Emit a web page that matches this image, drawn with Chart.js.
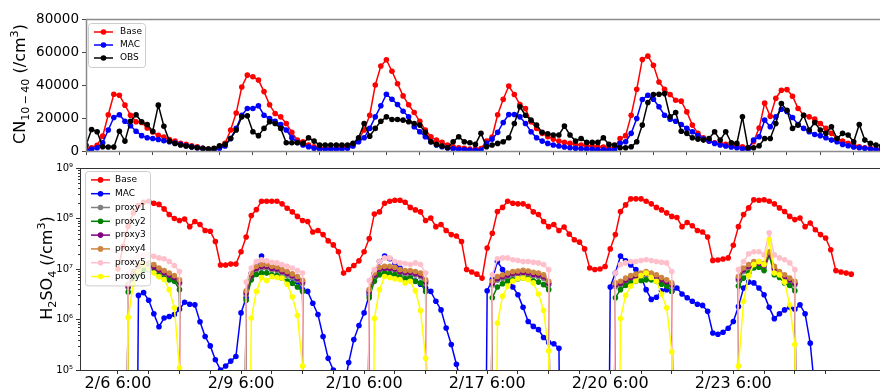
<!DOCTYPE html>
<html>
<head>
<meta charset="utf-8">
<script src="https://cdn.jsdelivr.net/npm/chart.js@4"></script>
<style>
  html, body { margin: 0; padding: 0; background: #fff; }
  body { position: relative; width: 880px; height: 391px; overflow: hidden; }
  canvas { position: absolute; left: 0; }
  #cnChart { top: 0; }
  #so4Chart { top: 150px; }
  .ytitle {
    position: absolute; font-family: 'DejaVu Sans', sans-serif; font-size: 16px; color: #000;
    white-space: nowrap; transform: translate(-50%, -50%) rotate(-90deg);
  }
  .ytitle sub, .ytitle sup { font-size: 70%; line-height: 0; }
</style>
</head>
<body>
<canvas id="cnChart" width="901" height="170"></canvas>
<canvas id="so4Chart" width="892" height="241"></canvas>
<div class="ytitle" style="left:19px; top:84px">CN<sub>10&#8201;&#8722;&#8201;40</sub> (/cm<sup>3</sup>)</div>
<div class="ytitle" style="left:46px; top:268px">H<sub>2</sub>SO<sub>4</sub> (/cm<sup>3</sup>)</div>
<script>
// === hourly series, 6 days x 24 h, each day starting 6:00 ===

const dayLabels = ['2/6 6:00', '2/9 6:00', '2/10 6:00', '2/17 6:00', '2/20 6:00', '2/23 6:00'];
const cnYTicks = [0, 20000, 40000, 60000, 80000];
const so4YTicks = [1e5, 1e6, 1e7, 1e8, 1e9];
const so4YLabels = ['10\u2075', '10\u2076', '10\u2077', '10\u2078', '10\u2079'];

// CN10-40 (/cm3)
const cnBase = [
  1500, 2000, 3500, 9000, 22000, 34400, 33800, 27800, 21700, 17700, 17300, 14000, 11500, 9500, 8500, 7000, 6000, 4600, 4000, 3200, 2600, 1600, 1200, 800,
  2600, 4600, 12700, 23000, 38800, 46000, 45000, 43000, 36000, 28000, 22700, 20700, 16700, 11300, 6600, 5600, 3600, 2600, 2000, 1800, 1800, 1800, 2000, 3000,
  4000, 7000, 12700, 21700, 40000, 51500, 55300, 48300, 40800, 33400, 28000, 23300, 18000, 12700, 8600, 6600, 5200, 3600, 2600, 2000, 1600, 1200, 1200, 1500,
  6000, 8500, 22000, 31400, 39400, 34200, 28200, 25700, 17700, 13700, 10700, 8700, 7200, 6000, 5200, 4600, 4000, 3600, 3200, 2800, 2600, 2400, 2000, 2000,
  7600, 9300, 21700, 37400, 55500, 57500, 52000, 41800, 37400, 34200, 30800, 30200, 23700, 15700, 10700, 8000, 6000, 5000, 4600, 4000, 3600, 3200, 2600, 2000,
  5600, 13900, 29000, 21000, 32000, 36800, 37200, 33200, 25800, 21700, 20700, 19300, 16700, 13700, 10700, 7600, 6000, 4600, 3600, 2600, 2000, 1600, 1200, 800
];
const cnMac = [
  500, 1000, 2000, 5000, 12700, 20300, 22000, 18000, 15300, 12000, 9300, 8000, 7600, 7000, 6200, 5600, 4800, 4000, 3200, 2600, 2000, 1500, 1000, 800,
  1600, 3000, 7600, 13700, 21700, 25800, 25800, 27400, 21700, 19700, 18000, 16100, 12700, 8000, 5200, 3600, 2600, 1600, 1200, 1000, 1000, 1000, 1200, 1600,
  3000, 5600, 8000, 13700, 20700, 27400, 34400, 31400, 28200, 24100, 20700, 14700, 11700, 8600, 5600, 3600, 2600, 1800, 1400, 1000, 800, 600, 500, 500,
  4600, 7200, 11300, 17300, 22100, 22100, 20700, 16700, 11700, 8000, 6000, 4600, 3600, 3000, 2400, 2000, 1600, 1400, 1200, 1000, 800, 800, 600, 600,
  4600, 5600, 10700, 19700, 31200, 33800, 31400, 26800, 21700, 19300, 18000, 16100, 13700, 11700, 9300, 7200, 6000, 4600, 3600, 3000, 2400, 2000, 1400, 1000,
  6600, 8600, 18700, 14700, 20700, 25300, 24000, 20300, 16100, 13700, 11700, 10000, 9300, 8000, 6600, 5600, 4000, 3200, 2400, 2000, 1600, 1200, 1000, 800
];
const cnObs = [
  3500, 13000, 11700, 2600, 2400, 2400, 12000, 6000, 18000, 22000, 17700, 16000, 12000, 27800, 15000, 6000, 4600, 3600, 3000, 2400, 2000, 1600, 1200, 1600,
  3200, 4000, 7600, 12700, 20700, 21300, 11700, 9300, 13700, 17700, 16700, 13700, 5000, 5000, 5000, 4600, 8000, 6000, 3600, 3600, 3600, 3600, 3600, 3600,
  4600, 8000, 16700, 9000, 13700, 18000, 20700, 19100, 19100, 18700, 17700, 16700, 15700, 11300, 5600, 4000, 3000, 2000, 5600, 8600, 5600, 5000, 4000, 10700,
  2600, 3600, 4600, 5600, 8000, 16700, 26800, 21700, 18700, 15700, 11300, 10500, 9700, 9700, 15100, 9700, 6000, 7600, 5200, 5200, 5200, 8000, 4000, 3600,
  2000, 2000, 2600, 5600, 15700, 29400, 34200, 34400, 34800, 20700, 23300, 12000, 10700, 8000, 7200, 6600, 7600, 11700, 6600, 11700, 5000, 4600, 20700, 2000,
  2000, 3200, 7600, 7600, 16700, 28800, 24700, 13700, 15700, 21700, 12700, 17300, 12700, 10700, 14700, 7600, 10700, 9700, 5600, 16100, 6600, 4600, 3600, 3000
];

// H2SO4 (/cm3); z = far below the axis (not produced / clipped in the original)
const z = 1e-6;
const so4Base = [
  1.0e7, 2.8e7, 7.0e7, 1.3e8, 1.8e8, 2.1e8, 2.2e8, 2.0e8, 1.9e8, 1.55e8, 1.2e8, 1.0e8, 9.1e7, 9.8e7, 6.9e7, 8.7e7, 7.6e7, 5.8e7, 5.6e7, 3.5e7, 1.2e7, 1.2e7, 1.25e7, 1.25e7,
  2.2e7, 4.3e7, 1.15e8, 1.5e8, 2.2e8, 2.2e8, 2.2e8, 2.2e8, 1.95e8, 1.6e8, 1.35e8, 1.1e8, 9.1e7, 8.7e7, 5.4e7, 5.8e7, 4.8e7, 3.6e7, 3.0e7, 2.2e7, 8.3e6, 9.8e6, 1.17e7, 1.45e7,
  2.2e7, 4.0e7, 1.23e8, 1.35e8, 2.0e8, 2.2e8, 2.3e8, 2.3e8, 2.1e8, 1.66e8, 1.48e8, 1.35e8, 9.1e7, 1.02e8, 6.9e7, 7.6e7, 5.8e7, 4.8e7, 4.5e7, 3.5e7, 9.8e6, 8.7e6, 7.9e6, 6.6e6,
  2.6e7, 5.1e7, 1.38e8, 1.66e8, 2.2e8, 2.0e8, 1.95e8, 1.95e8, 1.74e8, 1.35e8, 1.2e8, 8.7e7, 6.9e7, 7.6e7, 5.8e7, 6.8e7, 4.9e7, 3.8e7, 3.4e7, 2.5e7, 1.05e7, 9.8e6, 1.0e7, 1.12e7,
  2.5e7, 4.8e7, 1.38e8, 1.86e8, 2.45e8, 2.45e8, 2.45e8, 2.2e8, 1.95e8, 1.66e8, 1.48e8, 1.29e8, 1.1e8, 1.05e8, 6.9e7, 8.3e7, 7.2e7, 5.8e7, 5.4e7, 4.3e7, 1.48e7, 1.51e7, 1.58e7, 1.66e7,
  2.95e7, 6.9e7, 1.2e8, 1.62e8, 2.35e8, 2.3e8, 2.35e8, 2.2e8, 1.95e8, 1.62e8, 1.38e8, 1.1e8, 9.5e7, 1.02e8, 6.9e7, 8.1e7, 6.0e7, 4.8e7, 4.1e7, 2.4e7, 9.3e6, 8.7e6, 8.3e6, 7.9e6
];
const so4Mac = [
  z, z, z, z, 3.0e6, 3.4e6, 2.4e6, 1.3e6, 7.2e5, 1.07e6, 1.15e6, 1.25e6, 1.6e6, 2.2e6, 2.0e6, 1.95e6, 9e5, 4.6e5, 3e5, 1.6e5, 1.0e5, 1.2e5, 1.5e5, 1.85e5,
  1.35e6, 2.7e6, 8e6, 1.2e7, 1.8e7, 1.2e7, 1.1e7, 1.05e7, 9e6, 7.7e6, 6.6e6, 5.6e6, 3.9e6, 3.6e6, 2.1e6, 1.26e6, 4.6e5, 1.7e5, 1.0e5, 3e4, 4e4, 1.4e5, 4e5, 7.6e5,
  1.35e6, 3.1e6, 8e6, 1.4e7, 1.8e7, 1.6e7, 1.3e7, 1.05e7, 9e6, 7e6, 5.8e6, 5e6, 4.2e6, 3.6e6, 2.3e6, 1.55e6, 6.8e5, 3.2e5, 1.3e5, 5e4, z, z, z, z,
  3.7e6, 6.2e6, 1.4e7, 9.8e6, 6.6e6, 4.4e6, 3.1e6, 1.74e6, 9.1e5, 7.3e5, 6.3e5, 4.4e5, 3.5e5, 3.3e5, 2.7e5, z, z, z, z, z, z, z, z, z,
  4.4e6, 8.3e6, 1.8e7, 1.45e7, 1.2e7, 9.8e6, 7.1e6, 3.9e6, 2.5e6, 2.75e6, 3.7e6, 3.9e6, 3.6e6, 4.2e6, 3.2e6, 2.7e6, 2.3e6, 2.0e6, 1.9e6, 1.45e6, 5.4e5, 5.1e5, 5.6e5, 6.7e5,
  9.1e5, 1.8e6, 4.2e6, 5.5e6, 5.3e6, 4.2e6, 3.1e6, 1.74e6, 1.04e6, 1.3e6, 1.55e6, 1.74e6, 1.6e6, 1.95e6, 1.3e6, 3.4e5, 3e4, null, null, null, null, null, null, null
];
const proxy1 = [
  z, z, 4.3e6, 7.8e6, 1.05e7, 1.13e7, 1.1e7, 1.03e7, 8.9e6, 8.0e6, 7.1e6, 6.3e6, 5.1e6, z, z, z, z, z, z, z, z, z, z, z,
  z, 3.1e6, 7.0e6, 9.6e6, 1.04e7, 1.04e7, 9.6e6, 9.3e6, 8.2e6, 7.5e6, 6.8e6, 6.0e6, 5.1e6, z, z, z, z, z, z, z, z, z, z, z,
  z, 3.3e6, 7.0e6, 9.2e6, 9.6e6, 9.6e6, 9.2e6, 8.2e6, 7.9e6, 7.9e6, 7.6e6, 7.0e6, 5.1e6, z, z, z, z, z, z, z, z, z, z, z,
  z, 4.8e6, 6.0e6, 6.5e6, 7.0e6, 7.5e6, 7.7e6, 7.9e6, 7.7e6, 7.3e6, 7.0e6, 6.5e6, 4.8e6, z, z, z, z, z, z, z, z, z, z, z,
  z, 4.5e6, 4.8e6, 5.5e6, 6.2e6, 6.6e6, 7.0e6, 7.5e6, 7.0e6, 6.5e6, 5.7e6, 5.1e6, 4.5e6, z, z, z, z, z, z, z, z, z, z, z,
  z, 6.0e6, 8.9e6, 1.04e7, 1.2e7, 1.2e7, 1.08e7, 1.9e7, 9.6e6, 7.5e6, 6.5e6, 5.6e6, 4.8e6, z, z, z, z, z, z, z, z, z, z, z
];
const proxy2 = [
  z, z, 3.5e6, 6.5e6, 8.5e6, 9.8e6, 9.7e6, 9.0e6, 7.4e6, 6.6e6, 6.1e6, 5.7e6, 3.9e6, z, z, z, z, z, z, z, z, z, z, z,
  z, 2.4e6, 6.1e6, 7.8e6, 8.3e6, 8.3e6, 7.7e6, 7.4e6, 6.6e6, 5.8e6, 5.2e6, 4.4e6, 3.6e6, z, z, z, z, z, z, z, z, z, z, z,
  z, 2.7e6, 5.7e6, 7.7e6, 8.3e6, 8.0e6, 7.7e6, 6.9e6, 6.4e6, 6.6e6, 5.7e6, 5.3e6, 3.6e6, z, z, z, z, z, z, z, z, z, z, z,
  z, 2.7e6, 4.4e6, 5.1e6, 5.7e6, 6.1e6, 6.4e6, 6.6e6, 6.4e6, 5.8e6, 5.5e6, 4.9e6, 3.9e6, z, z, z, z, z, z, z, z, z, z, z,
  z, 2.7e6, 3.9e6, 4.7e6, 5.3e6, 5.7e6, 5.9e6, 6.1e6, 6.1e6, 5.7e6, 5.0e6, 4.6e6, 3.6e6, z, z, z, z, z, z, z, z, z, z, z,
  z, 4.6e6, 6.6e6, 8.3e6, 1.05e7, 1.08e7, 9.3e6, 1.9e7, 7.7e6, 6.8e6, 5.3e6, 4.7e6, 3.7e6, z, z, z, z, z, z, z, z, z, z, z
];
const proxy3 = [
  z, z, 4.6e6, 8.3e6, 1.1e7, 1.2e7, 1.17e7, 1.1e7, 9.5e6, 8.5e6, 7.6e6, 6.8e6, 5.5e6, z, z, z, z, z, z, z, z, z, z, z,
  z, 3.4e6, 7.6e6, 1.04e7, 1.13e7, 1.13e7, 1.04e7, 1.0e7, 8.9e6, 8.2e6, 7.4e6, 6.5e6, 5.5e6, z, z, z, z, z, z, z, z, z, z, z,
  z, 3.6e6, 7.6e6, 1.0e7, 1.04e7, 1.04e7, 1.0e7, 8.9e6, 8.6e6, 8.6e6, 8.2e6, 7.6e6, 5.6e6, z, z, z, z, z, z, z, z, z, z, z,
  z, 5.2e6, 6.5e6, 7.1e6, 7.6e6, 8.2e6, 8.4e6, 8.6e6, 8.4e6, 7.9e6, 7.6e6, 7.1e6, 5.2e6, z, z, z, z, z, z, z, z, z, z, z,
  z, 4.9e6, 5.2e6, 6.0e6, 6.8e6, 7.2e6, 7.6e6, 8.2e6, 7.6e6, 7.1e6, 6.2e6, 5.6e6, 4.9e6, z, z, z, z, z, z, z, z, z, z, z,
  z, 6.5e6, 9.7e6, 1.13e7, 1.3e7, 1.3e7, 1.18e7, 2.0e7, 1.04e7, 8.2e6, 7.1e6, 6.1e6, 5.2e6, z, z, z, z, z, z, z, z, z, z, z
];
const proxy4 = [
  z, z, 5.0e6, 9.0e6, 1.2e7, 1.3e7, 1.3e7, 1.23e7, 1.05e7, 9.3e6, 8.3e6, 7.4e6, 6.1e6, z, z, z, z, z, z, z, z, z, z, z,
  z, 3.7e6, 8.3e6, 1.13e7, 1.23e7, 1.23e7, 1.13e7, 1.1e7, 9.7e6, 8.9e6, 8.0e6, 7.1e6, 6.0e6, z, z, z, z, z, z, z, z, z, z, z,
  z, 3.9e6, 8.3e6, 1.08e7, 1.13e7, 1.13e7, 1.08e7, 9.7e6, 9.3e6, 9.3e6, 8.9e6, 8.3e6, 6.1e6, z, z, z, z, z, z, z, z, z, z, z,
  z, 5.7e6, 7.1e6, 7.7e6, 8.3e6, 8.9e6, 9.1e6, 9.4e6, 9.1e6, 8.6e6, 8.3e6, 7.7e6, 5.7e6, z, z, z, z, z, z, z, z, z, z, z,
  z, 5.3e6, 5.7e6, 6.6e6, 7.4e6, 7.9e6, 8.3e6, 8.9e6, 8.3e6, 7.7e6, 6.8e6, 6.1e6, 5.3e6, z, z, z, z, z, z, z, z, z, z, z,
  z, 7.1e6, 1.05e7, 1.23e7, 1.41e7, 1.41e7, 1.28e7, 2.2e7, 1.13e7, 8.9e6, 7.7e6, 6.6e6, 5.7e6, z, z, z, z, z, z, z, z, z, z, z
];
const proxy5 = [
  z, z, 8.0e6, 1.5e7, 1.8e7, 1.9e7, 1.9e7, 1.78e7, 1.66e7, 1.6e7, 1.41e7, 1.17e7, 8.9e6, z, z, z, z, z, z, z, z, z, z, z,
  z, 5.5e6, 1.05e7, 1.41e7, 1.52e7, 1.45e7, 1.36e7, 1.32e7, 1.23e7, 1.13e7, 1.05e7, 9.3e6, 8.3e6, z, z, z, z, z, z, z, z, z, z, z,
  z, 5.9e6, 9.7e6, 1.41e7, 1.66e7, 1.66e7, 1.41e7, 1.32e7, 1.28e7, 1.23e7, 1.32e7, 1.23e7, 8.3e6, z, z, z, z, z, z, z, z, z, z, z,
  z, 7.7e6, 1.6e7, 1.66e7, 1.66e7, 1.52e7, 1.47e7, 1.41e7, 1.41e7, 1.36e7, 1.32e7, 1.23e7, 9.7e6, z, z, z, z, z, z, z, z, z, z, z,
  z, 8.3e6, 1.23e7, 1.32e7, 1.41e7, 1.41e7, 1.47e7, 1.52e7, 1.47e7, 1.41e7, 1.36e7, 1.32e7, 8.9e6, z, z, z, z, z, z, z, z, z, z, z,
  z, 9.7e6, 1.41e7, 2.0e7, 2.2e7, 2.2e7, 1.9e7, 5.2e7, 1.9e7, 1.66e7, 1.52e7, 1.32e7, 9.7e6, z, z, z, z, z, z, z, z, z, z, z
];
const proxy6 = [
  z, z, 1.1e6, 5.0e6, 9.0e6, 1.2e7, 1.0e7, 8.3e6, 7.0e6, 6.2e6, 3.9e6, 1.7e6, 1.1e5, z, z, z, z, z, z, z, z, z, z, z,
  z, z, 1.07e6, 3.6e6, 6.8e6, 5.9e6, 7.1e6, 6.8e6, 6.6e6, 5.0e6, 2.8e6, 1.2e6, 1.2e5, z, z, z, z, z, z, z, z, z, z, z,
  z, z, 1.05e6, 3.9e6, 7.1e6, 6.8e6, 6.4e6, 6.2e6, 5.3e6, 5.7e6, 3.7e6, 1.5e6, 1.7e5, z, z, z, z, z, z, z, z, z, z, z,
  z, z, 8.5e5, 2.9e6, 4.6e6, 5.8e6, 6.5e6, 6.6e6, 6.2e6, 5.3e6, 3.2e6, 1.5e6, 2.4e5, z, z, z, z, z, z, z, z, z, z, z,
  z, z, 1.05e6, 3.0e6, 4.6e6, 5.8e6, 7.4e6, 8.3e6, 6.8e6, 5.7e6, 3.2e6, 1.7e6, 2.3e5, z, z, z, z, z, z, z, z, z, z, z,
  z, 1.2e5, 2.3e6, 7.4e6, 1.23e7, 1.4e7, 1.23e7, 3.8e7, 8.3e6, 7.7e6, 5.5e6, 1.95e6, 3.2e5, z, z, z, z, z, z, z, z, z, z, z
];

// hour-of-record tick marks every 6 h, labelled once a day
const hourTicks = [];
for (let h = 0; h <= 144; h += 6) hourTicks.push(h);
const so4Minor = [];
for (let d = 5; d < 9; d++) for (let m = 2; m <= 9; m++) so4Minor.push(m * Math.pow(10, d));

Chart.defaults.font.family = "'DejaVu Sans', sans-serif";
Chart.defaults.color = '#000';
Chart.defaults.animation = false;

function series(values) {
  return values.map((v, i) => ({ x: i, y: v }));
}

function lineSet(label, values, color, order) {
  return {
    label, data: series(values), order,
    borderColor: color, backgroundColor: color,
    borderWidth: 1.5, pointRadius: 2.8, pointHoverRadius: 2.8, pointBorderWidth: 0,
    tension: 0, spanGaps: false
  };
}

// full box around the axes (matplotlib spines)
const frame = {
  id: 'frame',
  afterDatasetsDraw(chart, args, o) {
    const { ctx, chartArea: a } = chart;
    ctx.save();
    ctx.strokeStyle = o.color;
    ctx.lineWidth = o.width;
    ctx.strokeRect(Math.round(a.left) + 0.5, Math.round(a.top) + 0.5,
      Math.round(a.right - a.left), Math.round(a.bottom - a.top));
    ctx.restore();
  }
};

// legend box drawn inside the plot, upper left
const boxLegend = {
  id: 'boxLegend',
  afterDatasetsDraw(chart, args, o) {
    const { ctx, chartArea: a } = chart;
    const sets = chart.data.datasets;
    const x0 = Math.round(a.left + o.dx), y0 = Math.round(a.top + o.dy);
    const h = o.pad * 2 + o.row * sets.length;
    ctx.save();
    ctx.beginPath();
    ctx.roundRect(x0 + 0.5, y0 + 0.5, o.w, h, 3);
    ctx.fillStyle = 'rgba(255,255,255,0.8)';
    ctx.fill();
    ctx.strokeStyle = '#cccccc';
    ctx.lineWidth = 1;
    ctx.stroke();
    ctx.font = o.size + "px 'DejaVu Sans'";
    ctx.textBaseline = 'middle';
    sets.forEach((ds, i) => {
      const y = y0 + o.pad + o.row * (i + 0.5);
      ctx.strokeStyle = ds.borderColor;
      ctx.lineWidth = 1.5;
      ctx.beginPath();
      ctx.moveTo(x0 + 6, y);
      ctx.lineTo(x0 + 25, y);
      ctx.stroke();
      ctx.fillStyle = ds.borderColor;
      ctx.beginPath();
      ctx.arc(x0 + 15.5, y, 2.8, 0, Math.PI * 2);
      ctx.fill();
      ctx.fillStyle = '#000';
      ctx.fillText(ds.label, x0 + o.tx, y);
    });
    ctx.restore();
  }
};

// short minor ticks for the log axis
const minorTicks = {
  id: 'minorTicks',
  afterDraw(chart, args, o) {
    if (!o.on) return;
    const s = chart.scales.y, ctx = chart.ctx;
    ctx.save();
    ctx.strokeStyle = o.color;
    ctx.lineWidth = 1;
    so4Minor.forEach(v => {
      const y = Math.round(s.getPixelForValue(v)) + 0.5;
      ctx.beginPath();
      ctx.moveTo(s.right - 2, y);
      ctx.lineTo(s.right, y);
      ctx.stroke();
    });
    ctx.restore();
  }
};

const topSpine = '#8c8c8c';
const botSpine = '#333333';

// === top panel: CN10-40 ===
new Chart(document.getElementById('cnChart'), {
  type: 'line',
  data: {
    datasets: [
      lineSet('Base', cnBase, '#ff0000', 2),
      lineSet('MAC', cnMac, '#0000ff', 1),
      lineSet('OBS', cnObs, '#000000', 0)
    ]
  },
  plugins: [frame, boxLegend],
  options: {
    responsive: false, devicePixelRatio: 1, animation: false,
    layout: { padding: { top: 19, left: 0, right: 0, bottom: 0 } },
    plugins: {
      legend: { display: false }, tooltip: { enabled: false },
      frame: { color: topSpine, width: 1.5 },
      boxLegend: { dx: 2, dy: 4, w: 57, pad: 2.5, row: 13, size: 9, tx: 32 }
    },
    scales: {
      x: {
        type: 'linear', min: 0, max: 146,
        afterFit: s => { s.height = 19; },
        afterBuildTicks: s => { s.ticks = hourTicks.map(v => ({ value: v })); },
        ticks: { display: false },
        grid: { display: true, drawOnChartArea: false, drawTicks: true, tickLength: 4, tickColor: '#444', color: '#444' },
        border: { display: false }
      },
      y: {
        type: 'linear', min: 0, max: 80000,
        afterFit: s => { s.width = 86; },
        afterBuildTicks: s => { s.ticks = cnYTicks.map(v => ({ value: v })); },
        ticks: { font: { size: 13.5 }, color: '#000', padding: 3, callback: v => String(v) },
        grid: { display: true, drawOnChartArea: false, drawTicks: true, tickLength: 4, tickColor: '#444', color: '#444' },
        border: { display: false }
      }
    }
  }
});

// === bottom panel: H2SO4 ===
const so4Sets = [
  ['Base', so4Base, '#ff0000'],
  ['MAC', so4Mac, '#0000ff'],
  ['proxy1', proxy1, '#808080'],
  ['proxy2', proxy2, '#008000'],
  ['proxy3', proxy3, '#800080'],
  ['proxy4', proxy4, '#cd853f'],
  ['proxy5', proxy5, '#ffc0cb'],
  ['proxy6', proxy6, '#ffff00']
];

new Chart(document.getElementById('so4Chart'), {
  type: 'line',
  data: {
    datasets: so4Sets.map((s, i) => lineSet(s[0], s[1], s[2], so4Sets.length - 1 - i))
  },
  plugins: [frame, boxLegend, minorTicks],
  options: {
    responsive: false, devicePixelRatio: 1, animation: false,
    layout: { padding: { top: 18, left: 0, right: 0, bottom: 0 } },
    plugins: {
      legend: { display: false }, tooltip: { enabled: false },
      frame: { color: botSpine, width: 1 },
      boxLegend: { dx: 5, dy: 3, w: 65, pad: 2, row: 13.8, size: 9, tx: 30 },
      minorTicks: { on: true, color: botSpine }
    },
    scales: {
      x: {
        type: 'linear', min: -7.4, max: 150.4,
        afterFit: s => { s.height = 21; },
        afterBuildTicks: s => { s.ticks = hourTicks.map(v => ({ value: v })); },
        ticks: {
          font: { size: 16 }, color: '#000', padding: 0, autoSkip: false, maxRotation: 0,
          callback: v => (v % 24 === 0 ? dayLabels[v / 24] : '')
        },
        grid: { display: true, drawOnChartArea: false, drawTicks: true, tickLength: 4, tickColor: botSpine, color: botSpine },
        border: { display: false }
      },
      y: {
        type: 'logarithmic', min: 1e5, max: 1e9,
        afterFit: s => { s.width = 80; },
        afterBuildTicks: s => { s.ticks = so4YTicks.map(v => ({ value: v })); },
        ticks: { font: { size: 10 }, color: '#000', padding: 3, callback: (v, i) => so4YLabels[i] },
        grid: { display: true, drawOnChartArea: false, drawTicks: true, tickLength: 4, tickColor: botSpine, color: botSpine },
        border: { display: false }
      }
    }
  }
});
</script>
</body>
</html>
